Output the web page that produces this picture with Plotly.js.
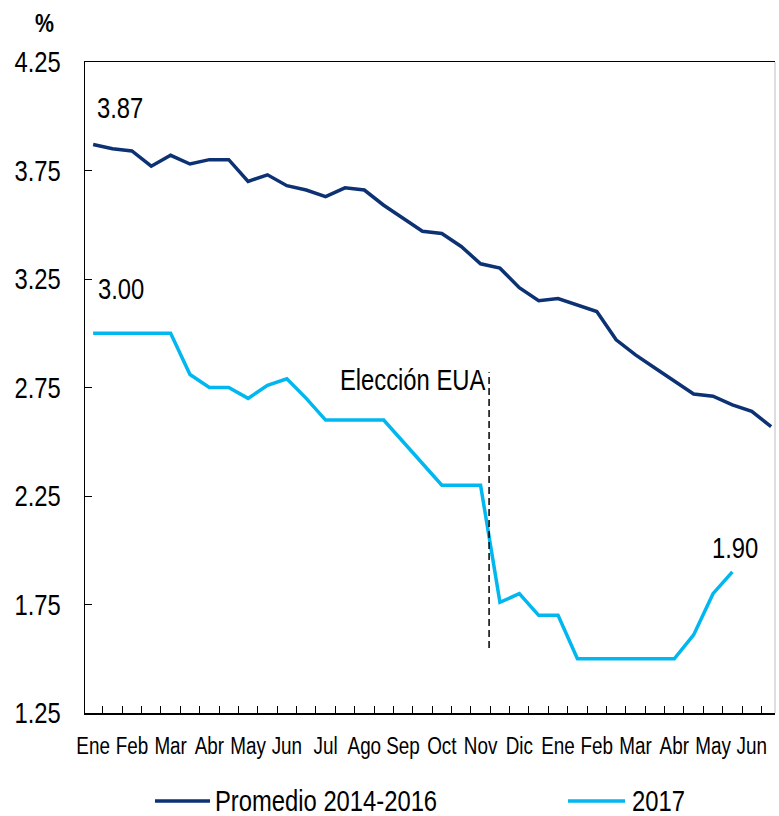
<!DOCTYPE html>
<html>
<head>
<meta charset="utf-8">
<script src="https://cdn.plot.ly/plotly-3.0.1.min.js"></script>
<style>html,body{margin:0;padding:0;background:#fff;overflow:hidden}</style>
</head>
<body>
<div id="chart" style="width:779px;height:816px"></div>
<script>
// Months (biweekly observations, two per month)
const months = ['Ene','Feb','Mar','Abr','May','Jun','Jul','Ago','Sep','Oct','Nov','Dic','Ene','Feb','Mar','Abr','May','Jun'];
// Promedio 2014-2016
const promedio = [3.87,3.85,3.84,3.77,3.82,3.78,3.80,3.80,3.70,3.73,3.68,3.66,3.63,3.67,3.66,3.59,3.53,3.47,3.46,3.40,3.32,3.30,3.21,3.15,3.16,3.13,3.10,2.97,2.90,2.84,2.78,2.72,2.71,2.67,2.64,2.57];
// 2017
const y2017 = [3.00,3.00,3.00,3.00,3.00,2.81,2.75,2.75,2.70,2.76,2.79,2.70,2.60,2.60,2.60,2.60,2.50,2.40,2.30,2.30,2.30,1.76,1.80,1.70,1.70,1.50,1.50,1.50,1.50,1.50,1.50,1.61,1.80,1.90];
const yTicks = [1.25,1.75,2.25,2.75,3.25,3.75,4.25];
const seriesNames = ['Promedio 2014-2016','2017'];
const electionLabel = 'Elección EUA';
const electionIndex = 20.44;
const electionRange = [1.55, 2.82];

const FONT = "'Liberation Sans', Arial, sans-serif";
const NARROW = 0.82; // emulate a condensed face
const DARK = '#0d3274';
const LIGHT = '#00b7ef';

const idxP = promedio.map((_, i) => i);
const idx17 = y2017.map((_, i) => i);
const monthVals = months.map((_, k) => 2 * k);
const minorVals = promedio.slice(0, promedio.length - 1).map((_, i) => i + 0.5);

const traces = [
  {x: idxP, y: promedio, type: 'scatter', mode: 'lines', name: seriesNames[0],
   line: {color: DARK, width: 3.5}, hoverinfo: 'skip'},
  {x: idx17, y: y2017, type: 'scatter', mode: 'lines', name: seriesNames[1],
   line: {color: LIGHT, width: 3.5}, hoverinfo: 'skip'}
];

const legY = -0.1352;
const layout = {
  width: 779, height: 816,
  margin: {l: 85, r: 4, t: 62, b: 103},
  paper_bgcolor: '#fff', plot_bgcolor: '#fff',
  showlegend: false,
  font: {family: FONT, color: '#000'},
  xaxis: {
    range: [-0.42, 35.2], showgrid: false, zeroline: false,
    showline: true, linecolor: '#000', linewidth: 1.5, mirror: true,
    tickmode: 'array', tickvals: monthVals, ticktext: months, ticks: '', tickangle: 0,
    tickfont: {family: FONT, size: 23, color: '#000'},
    ticklabelstandoff: 12,
    minor: {tickmode: 'array', tickvals: minorVals, ticks: 'inside', ticklen: 7, tickwidth: 1, tickcolor: '#000', showgrid: false}
  },
  yaxis: {
    range: [1.25, 4.25], showgrid: false, zeroline: false,
    showline: true, linecolor: '#000', linewidth: 1.5,
    tickmode: 'array', tickvals: yTicks, ticktext: yTicks.map(v => v.toFixed(2)),
    ticks: 'inside', ticklen: 7, tickwidth: 1, tickcolor: '#000',
    tickfont: {family: FONT, size: 29, color: '#000'},
    ticklabelstandoff: 17
  },
  shapes: [
    {type: 'line', xref: 'x', yref: 'y', x0: electionIndex, x1: electionIndex,
     y0: electionRange[0], y1: electionRange[1], line: {color: '#000', width: 1.5, dash: '7px,4px'}},
    {type: 'line', xref: 'paper', yref: 'paper', x0: 1, x1: 1, y0: 0, y1: 1,
     line: {color: '#bdbdbd', width: 1}},
    {type: 'line', xref: 'paper', yref: 'paper', x0: 0.1014, x1: 0.1812, y0: legY, y1: legY,
     line: {color: DARK, width: 3.5}},
    {type: 'line', xref: 'paper', yref: 'paper', x0: 0.700, x1: 0.7826, y0: legY, y1: legY,
     line: {color: LIGHT, width: 3.5}}
  ],
  annotations: [
    {xref: 'x', yref: 'y', x: 0.1, y: 4.04, text: promedio[0].toFixed(2), showarrow: false,
     xanchor: 'left', align: 'left', yanchor: 'middle', font: {family: FONT, size: 29, color: '#000'}},
    {xref: 'x', yref: 'y', x: 0.15, y: 3.205, text: y2017[0].toFixed(2), showarrow: false,
     xanchor: 'left', align: 'left', yanchor: 'middle', font: {family: FONT, size: 29, color: '#000'}},
    {xref: 'x', yref: 'y', x: 31.85, y: 2.01, text: y2017[y2017.length - 1].toFixed(2), showarrow: false,
     xanchor: 'left', align: 'left', yanchor: 'middle', font: {family: FONT, size: 29, color: '#000'}},
    {xref: 'x', yref: 'y', x: 20.4, y: 2.785, text: electionLabel, showarrow: false,
     xanchor: 'right', align: 'right', yanchor: 'middle', font: {family: FONT, size: 29, color: '#000'}},
    {xref: 'paper', yref: 'paper', x: -0.058, y: 1.06, text: '%', showarrow: false,
     xanchor: 'center', yanchor: 'middle', font: {family: FONT, size: 26, color: '#000', weight: 'bold'}},
    {xref: 'paper', yref: 'paper', x: 0.1855, y: legY, text: seriesNames[0], showarrow: false,
     xanchor: 'left', align: 'left', yanchor: 'middle', font: {family: FONT, size: 29, color: '#000'}},
    {xref: 'paper', yref: 'paper', x: 0.7899, y: legY, text: seriesNames[1], showarrow: false,
     xanchor: 'left', align: 'left', yanchor: 'middle', font: {family: FONT, size: 29, color: '#000'}}
  ]
};

Plotly.newPlot('chart', traces, layout, {staticPlot: true, displayModeBar: false}).then(gd => {
  gd.querySelectorAll('svg text').forEach(t => {
    const len = t.getComputedTextLength();
    if (len > 0) {
      t.setAttribute('textLength', (len * NARROW).toFixed(2));
      t.setAttribute('lengthAdjust', 'spacingAndGlyphs');
    }
  });
});
</script>
</body>
</html>
